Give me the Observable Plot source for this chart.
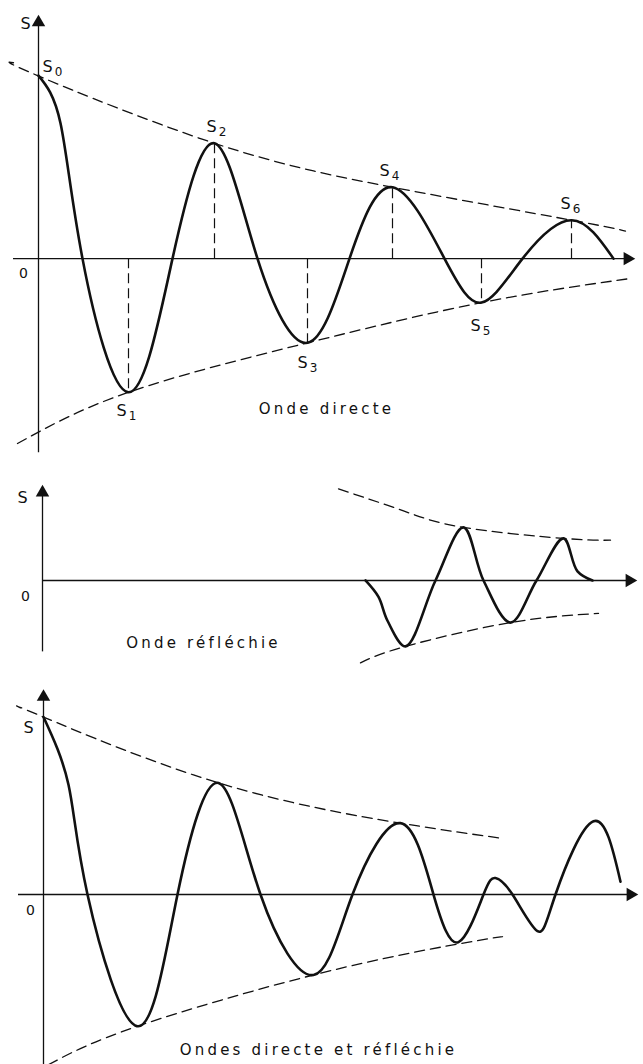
<!DOCTYPE html>
<html>
<head>
<meta charset="utf-8">
<script src="https://cdn.jsdelivr.net/npm/d3@7"></script>
<script src="https://cdn.jsdelivr.net/npm/@observablehq/plot@0.6"></script>
<style>
  html, body { margin: 0; padding: 0; background: #fff; }
  #chart svg { display: block; }
</style>
</head>
<body>
<div id="chart"></div>
<script>
// ---------- Panel 1 : Onde directe ----------
const p1WaveT = [0, 22, 44, 90, 134, 176, 219, 269, 311, 354, 406, 443, 484, 533, 575];
const p1WaveS = [100, 74, 0, -73, 0, 63, 0, -46, 0, 39, 0, -24, 0, 21, 0];
const p1ExtremaT = [90, 176, 269, 354, 443, 533];
const p1ExtremaS = [-73, 63, -46, 39, -24, 21];
const p1UpperT = [-25, -1, 176, 354, 533, 587];
const p1UpperS = [107, 100, 63, 39, 21, 15];
const p1LowerT = [-21, 90, 269, 443, 590];
const p1LowerS = [-101, -73, -46, -24, -11];
const p1LabelText = ["S0", "S1", "S2", "S3", "S4", "S5", "S6"];
const p1LabelT = [14, 88, 178, 269, 351, 442, 532];
const p1LabelS = [105, -83, 72, -57, 48, -37, 30];

// ---------- Panel 2 : Onde réfléchie ----------
const p2WaveT = [323, 336, 345, 363, 393, 421, 441, 468, 494, 521, 535, 550];
const p2WaveS = [0, -9, -22, -36, 0, 29, 0, -23, 0, 23, 5, 0];
const p2UpperT = [296, 361, 421, 521, 568];
const p2UpperS = [50, 38, 29, 23, 22];
const p2LowerT = [318, 363, 468, 556];
const p2LowerS = [-45, -36, -23, -18];

// ---------- Panel 3 : Ondes directe et réfléchie ----------
const p3WaveT = [0, 25, 44, 94, 134, 175, 217, 270, 309, 357, 390, 415, 440, 452, 469, 494, 512, 550, 577];
const p3WaveS = [97, 60, 0, -72, 0, 61, 0, -44, 0, 39, 0, -26, 0, 9, 0, -20, 0, 40, 7];
const p3UpperT = [-23, 0, 175, 357, 455];
const p3UpperS = [102, 97, 61, 39, 31];
const p3LowerT = [5, 94, 277, 415, 459];
const p3LowerS = [-93, -72, -43, -27, -23];

// ---------- Captions / axis texts ----------
const captions = ["Onde directe", "Onde réfléchie", "Ondes directe et réfléchie"];
const captionT = [288, 161, 275];
const captionS = [-82, -34, -85];
const axisNameT = [-13, -20, -15];
const axisNameS = [128, 45, 91];
const zeroLabelT = [-15, -17, -13];
const zeroLabelS = [-8, -9, -9];

// axis extents per panel
const xAxisStart = [-25, 0, -25];
const xAxisArrow = [589, 587, 587];
const yAxisBottom = [-106, -39, -93];
const yAxisArrow = [129, 48, 108];

// panel frames (data domains)
const tDomains = [[-38, 605], [-42, 601], [-43, 600]];
const sDomains = [[-113, 141], [-51.9, 62.8], [-92.9, 119.7]];
const heights = [465, 210, 389];

const zip = (T, S) => T.map((t, i) => ({t, s: S[i]}));
const FONT = "DejaVu Sans, sans-serif";
const INK = "#111";

function panel(i, marks) {
  const base = [
    Plot.ruleY([0], {x1: xAxisStart[i], x2: xAxisArrow[i], stroke: INK, strokeWidth: 1.3}),
    Plot.dot([{t: xAxisArrow[i], s: 0}], {x: "t", y: "s", symbol: "triangle", r: 5, rotate: 90, fill: INK, stroke: null}),
    Plot.ruleX([0], {y1: yAxisBottom[i], y2: yAxisArrow[i], stroke: INK, strokeWidth: 1.3}),
    Plot.dot([{t: 0, s: yAxisArrow[i]}], {x: "t", y: "s", symbol: "triangle", r: 5, fill: INK, stroke: null}),
    Plot.text([{t: axisNameT[i], s: axisNameS[i], l: "S"}], {x: "t", y: "s", text: "l", fontSize: 16, fontFamily: FONT, fill: INK}),
    Plot.text([{t: zeroLabelT[i], s: zeroLabelS[i], l: "0"}], {x: "t", y: "s", text: "l", fontSize: 14, fontFamily: FONT, fill: INK}),
    Plot.text([{t: captionT[i], s: captionS[i], l: captions[i]}], {x: "t", y: "s", text: "l", fontSize: 15, fontFamily: FONT, fill: INK})
  ];
  const svg = Plot.plot({
    width: 643,
    height: heights[i],
    margin: 0,
    x: {domain: tDomains[i], axis: null},
    y: {domain: sDomains[i], axis: null},
    style: {background: "#fff", overflow: "visible"},
    marks: [...base, ...marks]
  });
  svg.querySelectorAll("text").forEach(t => {
    const s = t.textContent;
    if (s.startsWith("Onde")) t.style.letterSpacing = "3.2px";
    if (/^S\d$/.test(s)) {
      t.textContent = "S";
      const sub = document.createElementNS("http://www.w3.org/2000/svg", "tspan");
      sub.setAttribute("dx", "2");
      sub.setAttribute("dy", "4");
      sub.setAttribute("font-size", "12");
      sub.textContent = s[1];
      t.appendChild(sub);
    }
  });
  return svg;
}

const dashEnv = {x: "t", y: "s", curve: "natural", stroke: INK, strokeWidth: 1.3, strokeDasharray: "10,6"};
const waveStyle = {x: "t", y: "s", curve: "natural", stroke: INK, strokeWidth: 2.6, strokeLinejoin: "round", strokeLinecap: "round"};

const p1 = panel(0, [
  Plot.line(zip(p1UpperT, p1UpperS), dashEnv),
  Plot.line(zip(p1LowerT, p1LowerS), dashEnv),
  Plot.ruleX(zip(p1ExtremaT, p1ExtremaS), {x: "t", y1: 0, y2: "s", stroke: INK, strokeWidth: 1.2, strokeDasharray: "10,5"}),
  Plot.line(zip(p1WaveT, p1WaveS), waveStyle),
  Plot.text(p1LabelText.map((l, k) => ({l, t: p1LabelT[k], s: p1LabelS[k]})), {x: "t", y: "s", text: "l", fontSize: 16, fontFamily: FONT, fill: INK})
]);

const p2 = panel(1, [
  Plot.line(zip(p2UpperT, p2UpperS), dashEnv),
  Plot.line(zip(p2LowerT, p2LowerS), dashEnv),
  Plot.line(zip(p2WaveT, p2WaveS), {...waveStyle, curve: "catmull-rom"})
]);

const p3 = panel(2, [
  Plot.line(zip(p3UpperT, p3UpperS), dashEnv),
  Plot.line(zip(p3LowerT, p3LowerS), dashEnv),
  Plot.line(zip(p3WaveT, p3WaveS), waveStyle)
]);

document.getElementById("chart").append(p1, p2, p3);
</script>
</body>
</html>
